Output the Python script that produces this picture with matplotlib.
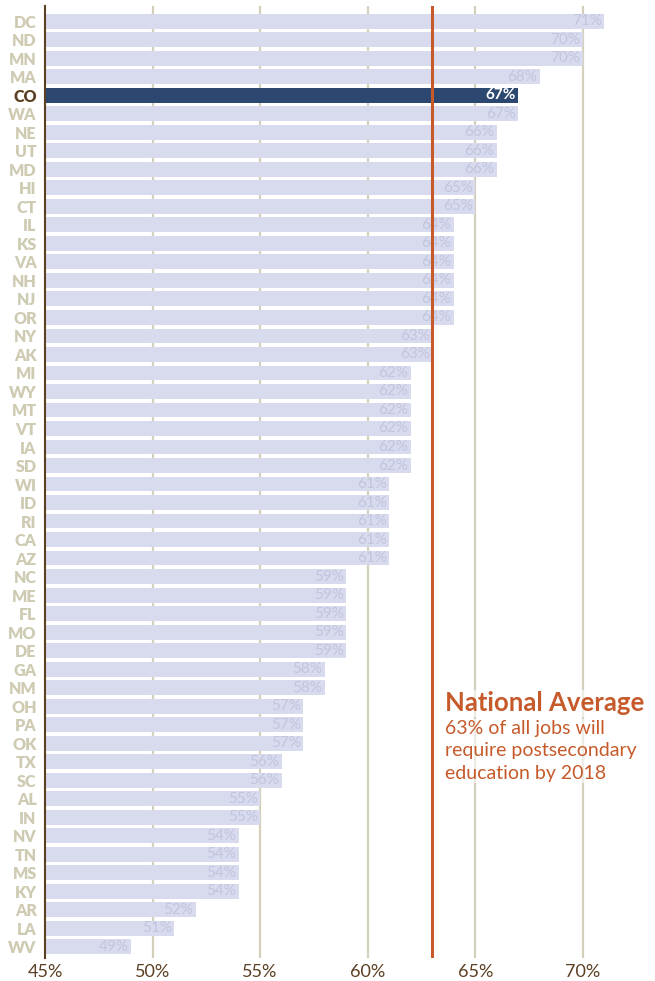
import matplotlib.pyplot as plt

states = ["DC", "ND", "MN", "MA", "CO", "WA", "NE", "UT", "MD", "HI", "CT",
          "IL", "KS", "VA", "NH", "NJ", "OR", "NY", "AK", "MI", "WY", "MT",
          "VT", "IA", "SD", "WI", "ID", "RI", "CA", "AZ", "NC", "ME", "FL",
          "MO", "DE", "GA", "NM", "OH", "PA", "OK", "TX", "SC", "AL", "IN",
          "NV", "TN", "MS", "KY", "AR", "LA", "WV"]
values = [71, 70, 70, 68, 67, 67, 66, 66, 66, 65, 65,
          64, 64, 64, 64, 64, 64, 63, 63, 62, 62, 62,
          62, 62, 62, 61, 61, 61, 61, 61, 59, 59, 59,
          59, 59, 58, 58, 57, 57, 57, 56, 56, 55, 55,
          54, 54, 54, 54, 52, 51, 49]
highlight = "CO"
national_avg = 63
xticks = [45, 50, 55, 60, 65, 70]

plt.rcParams['font.family'] = ['Lato', 'DejaVu Sans']

bar_col = "#d8daee"
hl_col = "#2d4870"
lab_col = "#c2c5de"
state_col = "#cfcbb3"
brown = "#5b3f22"
orange = "#c65a2a"
grid_col = "#d3d0bc"

fig = plt.figure(figsize=(6.55, 9.81), dpi=100)
ax = fig.add_axes([45 / 655, 1 - 958 / 981, 1 - 45 / 655, (958 - 6) / 981])

ypos = list(range(len(states)))
colors = [hl_col if s == highlight else bar_col for s in states]
ax.barh(ypos, [v - 45 for v in values], left=45, height=0.8, color=colors, zorder=2)

for y, s, v in zip(ypos, states, values):
    if s == highlight:
        ax.text(v - 0.12, y, f"{v}%", ha="right", va="center", fontsize=11,
                color="white", fontweight="bold", zorder=4)
    else:
        ax.text(v - 0.12, y, f"{v}%", ha="right", va="center", fontsize=11,
                color=lab_col, zorder=4)

for x in xticks[1:]:
    ax.axvline(x, color=grid_col, lw=1.6, zorder=1)

ax.axvline(national_avg, color=orange, lw=2.2, zorder=5)

ax.set_xlim(45, 73.35)
ax.set_ylim(50.6, -0.82)
ax.set_yticks(ypos)
ax.set_yticklabels(states, fontsize=11.5, fontweight="heavy")
for lbl in ax.get_yticklabels():
    lbl.set_color(brown if lbl.get_text() == highlight else state_col)
ax.set_xticks(xticks)
ax.set_xticklabels([f"{x}%" for x in xticks], fontsize=13, color=brown)
ax.tick_params(axis="both", length=0)
ax.tick_params(axis="y", pad=6)
ax.tick_params(axis="x", pad=4)

for side in ["top", "right", "bottom"]:
    ax.spines[side].set_visible(False)
ax.spines["left"].set_color(brown)
ax.spines["left"].set_linewidth(1.5)

ax.text(63.6, 36.85, "National Average", fontsize=18.5, fontweight="bold",
        color=orange, ha="left", va="center", zorder=6,
        bbox=dict(facecolor="white", edgecolor="none", alpha=0.6, pad=1))
ax.text(63.6, 37.75, "63% of all jobs will\nrequire postsecondary\neducation by 2018",
        fontsize=14, color=orange, ha="left", va="top", linespacing=1.38,
        zorder=6, bbox=dict(facecolor="white", edgecolor="none", alpha=0.6, pad=1))

fig.savefig("out.png", dpi=100)
